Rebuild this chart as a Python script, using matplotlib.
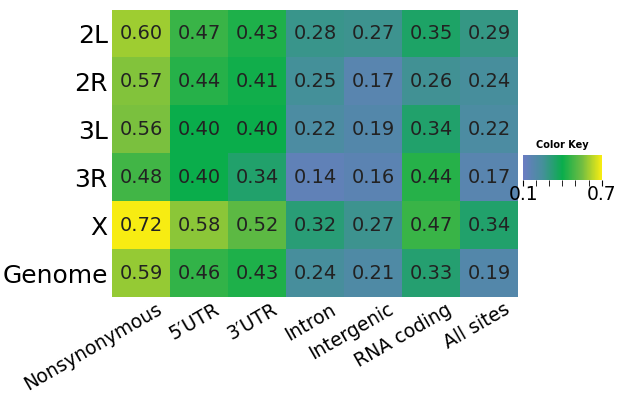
import numpy as np
import matplotlib.pyplot as plt
from matplotlib.colors import LinearSegmentedColormap

rows = ['2L', '2R', '3L', '3R', 'X', 'Genome']
cols = ['Nonsynonymous', '5\u2032UTR', '3\u2032UTR', 'Intron', 'Intergenic', 'RNA coding', 'All sites']
values = np.array([
    [0.60, 0.47, 0.43, 0.28, 0.27, 0.35, 0.29],
    [0.57, 0.44, 0.41, 0.25, 0.17, 0.26, 0.24],
    [0.56, 0.40, 0.40, 0.22, 0.19, 0.34, 0.22],
    [0.48, 0.40, 0.34, 0.14, 0.16, 0.44, 0.17],
    [0.72, 0.58, 0.52, 0.32, 0.27, 0.47, 0.34],
    [0.59, 0.46, 0.43, 0.24, 0.21, 0.33, 0.19],
])

# blue -> green -> yellow colour key
cmap = LinearSegmentedColormap.from_list('key', [
    (0.0, '#6a7cc2'), (0.25, '#45909a'), (0.5, '#0aad4c'),
    (0.75, '#70bd42'), (1.0, '#f7ec12')])
vmin, vmax = 0.1, 0.7

fig = plt.figure(figsize=(6.17, 3.95), dpi=100)
ax = fig.add_axes([0.1815, 0.248, 0.658, 0.727])
im = ax.imshow(values, cmap=cmap, vmin=vmin, vmax=vmax, aspect='auto')

for i in range(len(rows)):
    for j in range(len(cols)):
        ax.text(j, i, f'{values[i, j]:.2f}', ha='center', va='center',
                fontsize=14, color='#222222')

ax.set_yticks(range(len(rows)))
ax.set_yticklabels(rows, fontsize=18)
ax.set_xticks(np.arange(len(cols)) + 0.25)
ax.set_xticklabels(cols, fontsize=13.5, rotation=30, ha='right',
                   rotation_mode='anchor')
ax.tick_params(axis='x', length=0, pad=2)
ax.tick_params(axis='y', length=0, pad=3)
for s in ax.spines.values():
    s.set_visible(False)

# colour key
cax = fig.add_axes([0.848, 0.545, 0.127, 0.063])
cb = fig.colorbar(im, cax=cax, orientation='horizontal')
cb.set_ticks([0.1, 0.7])
cb.set_ticklabels(['0.1', '0.7'])
cb.ax.xaxis.set_minor_locator(plt.MultipleLocator(0.1))
cb.ax.tick_params(which='both', labelsize=13.5, length=4, pad=0)
cb.outline.set_visible(False)
cax.set_title('Color Key', fontsize=7, fontweight='bold', pad=5)

plt.savefig('out.png', dpi=100)
